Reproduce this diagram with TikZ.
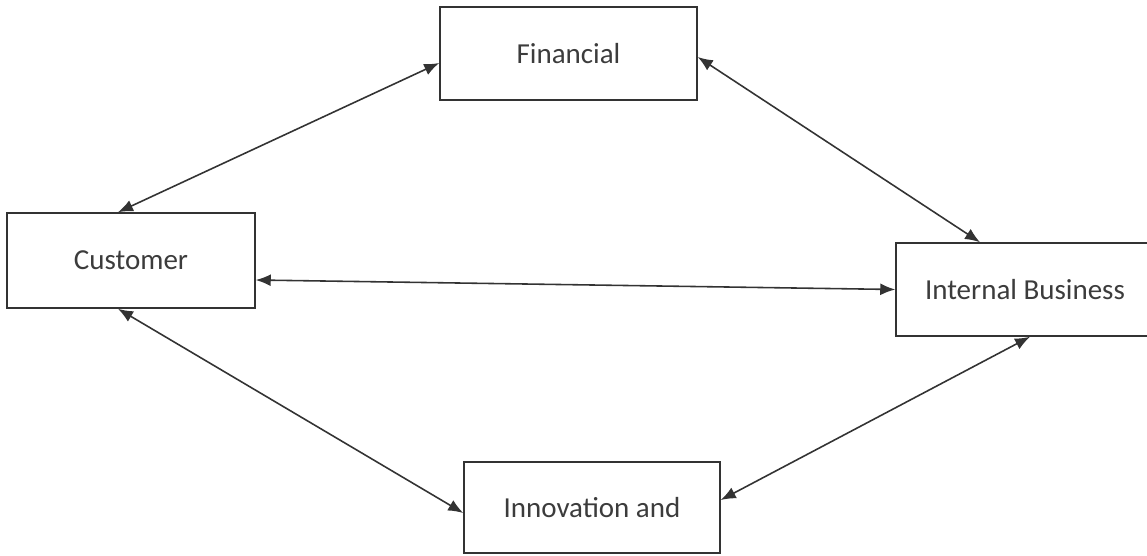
\documentclass[tikz,border=0pt]{standalone}
\usepackage{fontspec}
\setmainfont{Carlito}
\usetikzlibrary{arrows.meta}
\definecolor{inkgray}{HTML}{333333}
\definecolor{textgray}{HTML}{3C3C3C}
\tikzset{
    perspbox/.style={draw=inkgray, line width=0.9pt, rectangle, text=textgray,
        font=\fontsize{16.5}{19}\selectfont},
    link/.style={draw=inkgray, line width=0.9pt,
        {Latex[length=0.3cm, width=0.24cm]}-{Latex[length=0.3cm, width=0.24cm]}}
}
\begin{document}
\begin{tikzpicture}[x=0.02cm, y=-0.02cm]
    \useasboundingbox (0,0) rectangle (1147,555);
    \clip (0,0) rectangle (1147,555);

    % Perspectives
    \node[perspbox, minimum width=5.14cm, minimum height=1.86cm] (fin) at (568.5, 53.5) {Financial};
    \node[perspbox, minimum width=4.96cm, minimum height=1.9cm] (cust) at (131, 260.5) {Customer};
    \node[perspbox, minimum width=5.16cm, minimum height=1.86cm] (intb) at (1025, 289.5) {Internal Business};
    \node[perspbox, minimum width=5.12cm, minimum height=1.82cm] (innov) at (592, 507.5) {Innovation and};

    % Two-way links
    \draw[link] ([yshift=-0.19cm]fin.west) -- ([xshift=-0.26cm]cust.north);
    \draw[link] ([yshift=-0.07cm]fin.east) -- ([xshift=-0.9cm]intb.north);
    \draw[link] ([yshift=-0.39cm]cust.east) -- (intb.west);
    \draw[link] ([xshift=-0.26cm]cust.south) -- ([yshift=-0.11cm]innov.west);
    \draw[link] ([xshift=0.1cm]intb.south) -- ([yshift=0.15cm]innov.east);
\end{tikzpicture}
\end{document}
